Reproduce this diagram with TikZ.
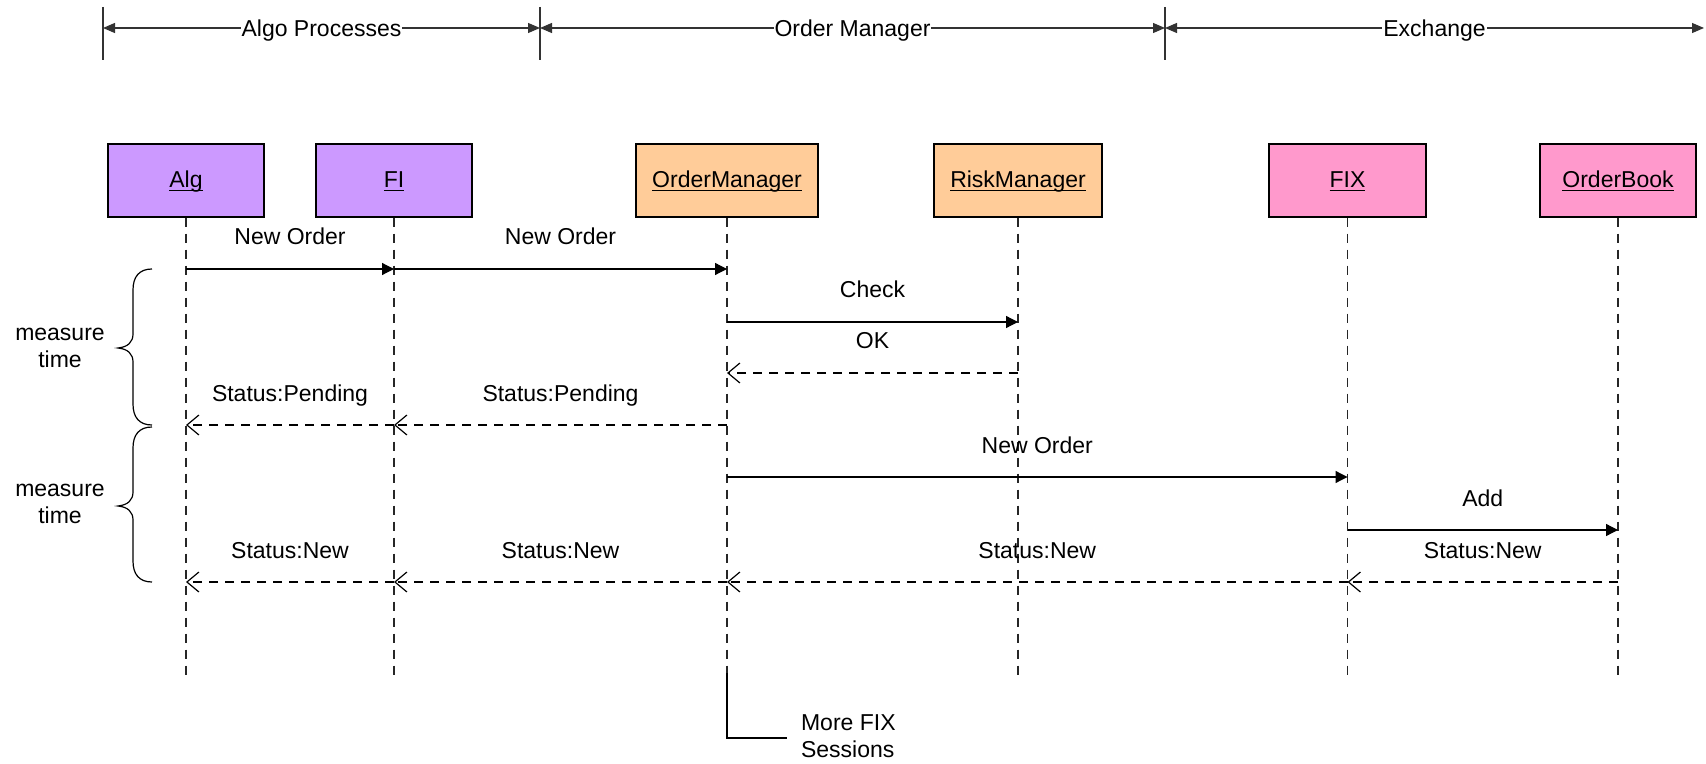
\documentclass[tikz,border=0pt]{standalone}
\usepackage{fontspec}
\setmainfont{Liberation Sans}
\usetikzlibrary{arrows.meta}
\definecolor{algc}{HTML}{CC99FF}
\definecolor{omc}{HTML}{FFCC99}
\definecolor{exc}{HTML}{FF99CC}
\newcommand{\objname}[1]{\underline{\smash{#1}}}
\begin{document}
\begin{tikzpicture}[x=0.5pt,y=-0.5pt,
  font=\fontsize{11.5}{13.5}\selectfont,
  obj/.style={draw=black, line width=0.6pt, minimum height=36.5pt, inner sep=0pt, text height=7.5pt, text depth=0pt},
  life/.style={draw=black!85, line width=0.6pt, dash pattern=on 4.5pt off 3.5pt},
  msg/.style={draw=black, line width=0.6pt, -{Triangle[length=6pt,width=6pt]}},
  ret/.style={draw=black, line width=0.6pt, dash pattern=on 4.5pt off 3.5pt, -{Straight Barb[length=6pt,width=10pt]}},
  lbl/.style={midway, anchor=base, yshift=12pt},
  dim/.style={draw=black!80, line width=0.6pt, {Triangle[length=6pt,width=5pt]}-{Triangle[length=6pt,width=5pt]}},
  dimlbl/.style={midway, fill=white, inner xsep=0.5pt, inner ysep=1pt, anchor=base, yshift=-4.5pt},
  tick/.style={draw=black!80, line width=0.6pt},
  bracestyle/.style={draw=black, line width=0.6pt}
]
\useasboundingbox (0,0) rectangle (1706,764);

% top dimension line
\coordinate (t0) at (103,28);
\coordinate (t1) at (540,28);
\coordinate (t2) at (1165,28);
\coordinate (t3) at (1704,28);
\coordinate (t0a) at (103,7);  \coordinate (t0b) at (103,60);
\coordinate (t1a) at (540,7);  \coordinate (t1b) at (540,60);
\coordinate (t2a) at (1165,7); \coordinate (t2b) at (1165,60);
\draw[tick] (t0a) -- (t0b);
\draw[tick] (t1a) -- (t1b);
\draw[tick] (t2a) -- (t2b);
\draw[dim] (t0) -- node[dimlbl] (lalgo) {Algo Processes} (t1);
\draw[dim] (t1) -- node[dimlbl] (lom) {Order Manager} (t2);
\draw[dim] (t2) -- node[dimlbl] (lex) {Exchange} (t3);

% objects
\node[obj, fill=algc, minimum width=78pt] (alg) at (186,180.5) {\objname{Alg}};
\node[obj, fill=algc, minimum width=78pt] (fi) at (394,180.5) {\objname{FI}};
\node[obj, fill=omc, minimum width=91pt] (om) at (727,180.5) {\objname{OrderManager}};
\node[obj, fill=omc, minimum width=84pt] (rm) at (1018,180.5) {\objname{RiskManager}};
\node[obj, fill=exc, minimum width=78.5pt] (fix) at (1347.5,180.5) {\objname{FIX}};
\node[obj, fill=exc, minimum width=78pt] (ob) at (1618,180.5) {\objname{OrderBook}};

% lifelines
\coordinate (lend) at (0,675);
\coordinate (omend) at (727,673);
\draw[life] (alg.south) -- (alg.south |- lend);
\draw[life] (fi.south) -- (fi.south |- lend);
\draw[life] (om.south) -- (omend);
\draw[life] (rm.south) -- (rm.south |- lend);
\draw[life] (fix.south) -- (fix.south |- lend);
\draw[life] (ob.south) -- (ob.south |- lend);

% more FIX sessions
\coordinate (mcorner) at (727,738);
\coordinate (mend) at (787,738);
\draw[tick, black] (omend) -- (mcorner) -- (mend);
\node[anchor=west, align=left] (more) at (794,736.5) {More FIX\\Sessions};

% message rows
\coordinate (r1) at (0,269);
\coordinate (r2) at (0,322);
\coordinate (r3) at (0,373);
\coordinate (r4) at (0,425);
\coordinate (r5) at (0,477);
\coordinate (r6) at (0,530);
\coordinate (r7) at (0,582);

\draw[msg] (alg |- r1) -- node[lbl] {New Order} (fi |- r1);
\draw[msg] (fi |- r1) -- node[lbl] {New Order} (om |- r1);
\draw[msg] (om |- r2) -- node[lbl] {Check} (rm |- r2);
\draw[ret] (rm |- r3) -- node[lbl] {OK} (om |- r3);
\draw[ret] (om |- r4) -- node[lbl] {Status:Pending} (fi |- r4);
\draw[ret] (fi |- r4) -- node[lbl] {Status:Pending} (alg |- r4);
\draw[msg] (om |- r5) -- node[lbl] {New Order} (fix |- r5);
\draw[msg] (fix |- r6) -- node[lbl] {Add} (ob |- r6);
\draw[ret] (ob |- r7) -- node[lbl] {Status:New} (fix |- r7);
\draw[ret] (fix |- r7) -- node[lbl] {Status:New} (om |- r7);
\draw[ret] (om |- r7) -- node[lbl] {Status:New} (fi |- r7);
\draw[ret] (fi |- r7) -- node[lbl] {Status:New} (alg |- r7);

% braces
\draw[bracestyle] (152,269) .. controls (139,269) and (133,277) .. (133,290)
  -- (133,334) .. controls (133,342) and (128,347) .. (118,348)
  .. controls (128,349) and (133,354) .. (133,362)
  -- (133,404) .. controls (133,417) and (139,425) .. (152,425);
\draw[bracestyle] (152,427) .. controls (139,427) and (133,435) .. (133,448)
  -- (133,492) .. controls (133,500) and (128,505) .. (118,506)
  .. controls (128,507) and (133,512) .. (133,520)
  -- (133,561) .. controls (133,574) and (139,582) .. (152,582);
\node[align=center] (mt1) at (60,348) {measure\\time};
\node[align=center] (mt2) at (60,504) {measure\\time};
\end{tikzpicture}
\end{document}
